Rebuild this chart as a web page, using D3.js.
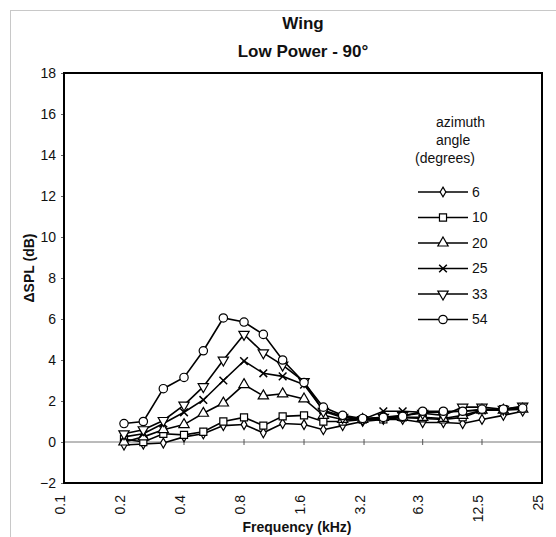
<!DOCTYPE html>
<html>
<head>
<meta charset="utf-8">
<script src="https://cdn.jsdelivr.net/npm/d3@7"></script>
<style>
body { margin: 0; background: #fff; }
text { font-family: "Liberation Sans", Arial, sans-serif; fill: #111; }
</style>
</head>
<body>
<div></div>
<script>
// third-octave band centres (kHz)
var freqs = [0.2, 0.25, 0.315, 0.4, 0.5, 0.63, 0.8, 1, 1.25, 1.6, 2, 2.5, 3.15, 4, 5, 6.3, 8, 10, 12.5, 16, 20];

var angle6  = [-0.15, -0.1, -0.05, 0.25, 0.4, 0.8, 0.85, 0.45, 0.9, 0.85, 0.6, 0.8, 1.0, 1.1, 1.1, 0.95, 0.95, 0.9, 1.1, 1.3, 1.5];
var angle10 = [0.15, 0.0, 0.4, 0.35, 0.5, 1.0, 1.2, 0.8, 1.25, 1.3, 1.0, 1.0, 1.1, 1.1, 1.2, 1.15, 1.1, 1.2, 1.55, 1.6, 1.7];
var angle20 = [0.0, 0.25, 0.6, 0.85, 1.4, 1.9, 2.8, 2.25, 2.35, 2.1, 1.3, 1.1, 1.1, 1.2, 1.2, 1.2, 1.15, 1.3, 1.55, 1.55, 1.6];
var angle25 = [0.25, 0.4, 0.9, 1.45, 2.05, 3.0, 3.95, 3.35, 3.2, 2.8, 1.55, 1.25, 1.1, 1.5, 1.5, 1.45, 1.45, 1.5, 1.55, 1.6, 1.7];
var angle33 = [0.4, 0.6, 1.05, 1.8, 2.7, 4.0, 5.25, 4.35, 3.75, 2.95, 1.5, 1.2, 1.1, 1.2, 1.3, 1.4, 1.3, 1.7, 1.7, 1.6, 1.75];
var angle54 = [0.9, 1.0, 2.6, 3.15, 4.45, 6.05, 5.85, 5.25, 4.0, 2.9, 1.7, 1.3, 1.15, 1.2, 1.25, 1.5, 1.5, 1.5, 1.6, 1.6, 1.65];

var seriesNames = ["6", "10", "20", "25", "33", "54"];
var seriesValues = [angle6, angle10, angle20, angle25, angle33, angle54];
var seriesMarkers = ["diamond", "square", "triUp", "x", "triDown", "circle"];

var xTickValues = [0.1, 0.2, 0.4, 0.8, 1.6, 3.2, 6.3, 12.5, 25];
var xTickLabels = ["0.1", "0.2", "0.4", "0.8", "1.6", "3.2", "6.3", "12.5", "25"];
var yTickValues = [-2, 0, 2, 4, 6, 8, 10, 12, 14, 16, 18];

var svg = d3.select("body").select("div").append("svg")
	.attr("width", 556)
	.attr("height", 537);

// faint page frame
svg.append("rect")
	.attr("x", 10.5).attr("y", 10.5)
	.attr("width", 600).attr("height", 600)
	.style("fill", "none")
	.attr("stroke", "#c8c8c8");

var plotLeft = 64, plotRight = 542, plotTop = 73, plotBottom = 483;

var x = d3.scaleLog().domain([0.1, 25]).range([plotLeft, plotRight]);
var y = d3.scaleLinear().domain([-2, 18]).range([plotBottom, plotTop]);

// titles
svg.append("text").attr("x", 303).attr("y", 29)
	.attr("text-anchor", "middle").style("font-size", "17px").style("font-weight", "bold")
	.text("Wing");
svg.append("text").attr("x", 303).attr("y", 57)
	.attr("text-anchor", "middle").style("font-size", "17px").style("font-weight", "bold")
	.text("Low Power - 90°");

// y axis ticks + labels
var yAxis = d3.axisLeft(y).tickValues(yTickValues).tickSize(3).tickPadding(5).tickFormat(d3.format("d"));
var yg = svg.append("g").attr("transform", "translate(" + plotLeft + ",0)").call(yAxis);
yg.select(".domain").remove();
yg.selectAll(".tick line").attr("stroke", "#666");
yg.selectAll("text").style("font-size", "14px").style("font-family", "Liberation Sans, Arial, sans-serif").attr("fill", "#111");

// zero line with category ticks
svg.append("line")
	.attr("x1", plotLeft).attr("x2", plotRight)
	.attr("y1", y(0)).attr("y2", y(0))
	.attr("stroke", "#777").attr("stroke-width", 1);
svg.append("g").selectAll("line")
	.data(xTickValues.slice(1, -1))
	.enter().append("line")
	.attr("x1", function(d) { return x(d); })
	.attr("x2", function(d) { return x(d); })
	.attr("y1", y(0) - 3).attr("y2", y(0) + 3)
	.attr("stroke", "#555");

// x tick labels, rotated
svg.append("g").selectAll("text")
	.data(xTickValues)
	.enter().append("text")
	.attr("transform", function(d) { return "translate(" + x(d) + ",495) rotate(-90)"; })
	.attr("text-anchor", "end")
	.attr("dy", "0.05em")
	.style("font-size", "14px")
	.text(function(d, i) { return xTickLabels[i]; });

// axis titles
svg.append("text").attr("x", 297).attr("y", 532)
	.attr("text-anchor", "middle").style("font-size", "14px").style("font-weight", "bold")
	.text("Frequency (kHz)");
svg.append("text")
	.attr("transform", "translate(34,268) rotate(-90)")
	.attr("text-anchor", "middle").style("font-size", "14px").style("font-weight", "bold")
	.text("ΔSPL (dB)");

function markerPath(kind) {
	if (kind == "diamond") return d3.symbol().type(d3.symbolDiamond).size(28)();
	if (kind == "square") return d3.symbol().type(d3.symbolSquare).size(50)();
	if (kind == "triUp" || kind == "triDown") return d3.symbol().type(d3.symbolTriangle).size(46)();
	if (kind == "x") return d3.symbol().type(d3.symbolX).size(40)();
	return d3.symbol().type(d3.symbolCircle).size(55)();
}

function drawMarker(g, kind, cx, cy) {
	var rot = kind == "triDown" ? " rotate(180)" : "";
	g.append("path")
		.attr("d", markerPath(kind))
		.attr("transform", "translate(" + cx + "," + cy + ")" + rot)
		.style("fill", kind == "x" ? "none" : "#fff")
		.attr("stroke", "#000")
		.attr("stroke-width", kind == "x" ? 1.5 : 1.2);
}

var line = d3.line()
	.x(function(d, i) { return x(freqs[i]); })
	.y(function(d) { return y(d); });

var dataGroup = svg.append("g");
seriesValues.forEach(function(vals, s) {
	var g = dataGroup.append("g");
	g.append("path")
		.attr("d", line(vals))
		.style("fill", "none")
		.attr("stroke", "#000")
		.attr("stroke-width", 1.6);
	vals.forEach(function(v, i) {
		drawMarker(g, seriesMarkers[s], x(freqs[i]), y(v));
	});
});

// legend
var legend = svg.append("g");
legend.append("text").attr("x", 436).attr("y", 127).style("font-size", "14px").text("azimuth");
legend.append("text").attr("x", 436).attr("y", 145).style("font-size", "14px").text("angle");
legend.append("text").attr("x", 415).attr("y", 163).style("font-size", "14px").text("(degrees)");

seriesNames.forEach(function(name, s) {
	var ry = 192 + s * 25.5;
	legend.append("line")
		.attr("x1", 418).attr("x2", 468)
		.attr("y1", ry).attr("y2", ry)
		.attr("stroke", "#000").attr("stroke-width", 1.6);
	drawMarker(legend, seriesMarkers[s], 443, ry);
	legend.append("text")
		.attr("x", 472).attr("y", ry).attr("dy", "0.35em")
		.style("font-size", "14px")
		.text(name);
});

// plot frame
svg.append("rect")
	.attr("x", plotLeft).attr("y", plotTop)
	.attr("width", plotRight - plotLeft).attr("height", plotBottom - plotTop)
	.style("fill", "none")
	.attr("stroke", "#000")
	.attr("stroke-width", 2);
</script>
</body>
</html>
